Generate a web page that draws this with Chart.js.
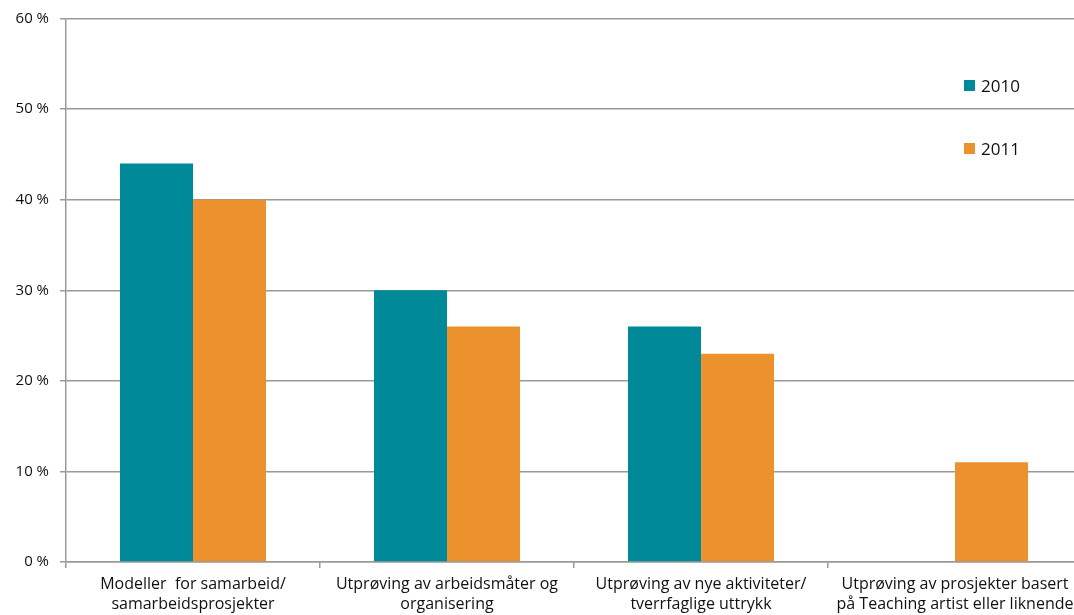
<!DOCTYPE html>
<html>
<head>
<meta charset="utf-8">
<script src="https://cdn.jsdelivr.net/npm/chart.js@4"></script>
<style>
  html, body { margin: 0; padding: 0; background: #fff; overflow: hidden; }
  #wrap { position: relative; width: 1100px; height: 615px; }
  #legend { position: absolute; left: 964px; top: 74px; font-family: 'Open Sans', sans-serif; font-size: 17px; color: #111; }
  #legend div { display: flex; align-items: center; height: 22px; margin-bottom: 41px; }
  #legend span.box { width: 11px; height: 11px; margin-right: 6px; }
</style>
</head>
<body>
<div id="wrap">
  <canvas id="chart" width="1100" height="615"></canvas>
  <div id="legend"></div>
</div>
<script>
const categories = [
  ['Modeller  for samarbeid/', 'samarbeidsprosjekter'],
  ['Utprøving av arbeidsmåter og', 'organisering'],
  ['Utprøving av nye aktiviteter/', 'tverrfaglige uttrykk'],
  ['Utprøving av prosjekter basert', 'på Teaching artist eller liknende']
]
const seriesNames = ['2010', '2011']
const values2010 = [44, 30, 26, 0]
const values2011 = [40, 26, 23, 11]
const yTicks = [0, 10, 20, 30, 40, 50, 60]

const colors = ['#008a99', '#eb912e']
const gridColor = '#9a9a9a'

const data = {
  labels: categories,
  datasets: [values2010, values2011].map((values, i) => ({
    label: seriesNames[i],
    data: values,
    backgroundColor: colors[i],
    borderWidth: 0,
    categoryPercentage: 0.575,
    barPercentage: 1,
  })),
}

const legend = document.getElementById('legend')
data.datasets.forEach((ds) => {
  const row = document.createElement('div')
  row.innerHTML = '<span class="box" style="background:' + ds.backgroundColor + '"></span>' + ds.label
  legend.appendChild(row)
})

new Chart(document.getElementById('chart'), {
  type: 'bar',
  data,
  options: {
    responsive: false,
    devicePixelRatio: 1,
    animation: false,
    layout: { padding: { top: 17, right: 18, left: 0, bottom: 0 } },
    plugins: {
      legend: { display: false },
      tooltip: { enabled: false },
    },
    scales: {
      x: {
        grid: {
          offset: true,
          drawOnChartArea: false,
          color: gridColor,
          lineWidth: 1.5,
          tickLength: 6,
        },
        border: { color: gridColor, width: 1.5 },
        ticks: {
          maxRotation: 0,
          autoSkip: false,
          color: '#111',
          font: { family: 'Open Sans', size: 16, lineHeight: 1.25 },
          padding: 6,
        },
        afterFit: (scale) => { scale.height = 53 },
      },
      y: {
        min: 0,
        max: 60,
        afterBuildTicks: (scale) => { scale.ticks = yTicks.map((v) => ({ value: v })) },
        grid: {
          color: gridColor,
          lineWidth: 1.5,
          tickLength: 6,
        },
        border: { color: gridColor, width: 1.5 },
        ticks: {
          color: '#111',
          font: { family: 'Open Sans', size: 15, lineHeight: 1 },
          padding: 11,
          callback: (v) => v + ' %',
        },
        afterFit: (scale) => { scale.width = 66 },
      },
    },
  },
})
</script>
</body>
</html>
